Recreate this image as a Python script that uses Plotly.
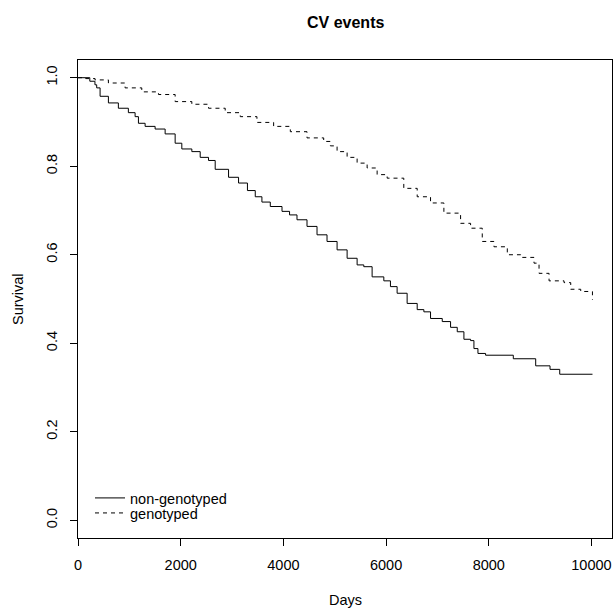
import plotly.graph_objects as go

# Kaplan-Meier style step data
t_non = [0, 230, 330, 364, 430, 592, 786, 981, 1112, 1177, 1307, 1502, 1697, 1892, 2022,
         2217, 2380, 2542, 2672, 2932, 3127, 3300, 3452, 3582, 3745, 3973, 4120, 4265, 4460,
         4655, 4850, 5046, 5241, 5436, 5566, 5728, 5956, 6085, 6215, 6410, 6606, 6736, 6866,
         7094, 7256, 7386, 7516, 7646, 7711, 7789, 7938, 8478, 8914, 9193, 9382, 10020]
s_non = [1.0, 0.992, 0.984, 0.977, 0.958, 0.943, 0.931, 0.921, 0.912, 0.897, 0.890, 0.884,
         0.873, 0.852, 0.839, 0.833, 0.820, 0.813, 0.793, 0.775, 0.762, 0.745, 0.731, 0.719,
         0.709, 0.698, 0.690, 0.679, 0.664, 0.645, 0.630, 0.611, 0.592, 0.577, 0.573, 0.550,
         0.541, 0.528, 0.513, 0.490, 0.476, 0.471, 0.456, 0.449, 0.436, 0.426, 0.409, 0.406,
         0.388, 0.377, 0.373, 0.365, 0.349, 0.341, 0.330, 0.330]

t_gen = [0, 150, 332, 592, 917, 1242, 1567, 1892, 2217, 2542, 2867, 3160, 3485, 3810, 4135,
         4460, 4785, 4915, 5046, 5241, 5436, 5631, 5826, 6021, 6345, 6606, 6866, 7126, 7451,
         7646, 7873, 8101, 8361, 8621, 8881, 8979, 9174, 9466, 9596, 9791, 10019]
s_gen = [1.0, 0.998, 0.995, 0.988, 0.977, 0.968, 0.962, 0.946, 0.940, 0.931, 0.921, 0.912,
         0.899, 0.890, 0.878, 0.864, 0.856, 0.846, 0.833, 0.820, 0.807, 0.796, 0.781, 0.773,
         0.750, 0.731, 0.717, 0.694, 0.671, 0.660, 0.630, 0.618, 0.600, 0.594, 0.581, 0.558,
         0.541, 0.537, 0.522, 0.517, 0.498]

x_ticks = [0, 2000, 4000, 6000, 8000, 10000]
x_tick_text = ["0", "2000", "4000", "6000", "8000", "10000"]
y_ticks = [0.0, 0.2, 0.4, 0.6, 0.8, 1.0]
y_tick_text = ["0.0", "0.2", "0.4", "0.6", "0.8", "1.0"]

FONT = "Liberation Sans, Arial, sans-serif"
FS = 14.5

fig = go.Figure()
fig.add_trace(go.Scatter(x=t_non, y=s_non, mode="lines", name="non-genotyped",
                         legend="legend",
                         line=dict(color="black", width=1, shape="hv")))
fig.add_trace(go.Scatter(x=t_gen, y=s_gen, mode="lines", name="genotyped",
                         legend="legend2",
                         line=dict(color="black", width=1, shape="hv", dash="4px,4px")))

axis_common = dict(showgrid=False, zeroline=False, showline=True, linecolor="black",
                   linewidth=1, mirror=True, ticks="outside", ticklen=7, tickwidth=1,
                   tickcolor="black", tickfont=dict(family=FONT, size=FS, color="black"))

fig.update_xaxes(range=[0, 10400], tickvals=x_ticks, ticktext=x_tick_text,
                 ticklabelstandoff=7, **axis_common)
fig.update_yaxes(range=[-0.04, 1.04], tickvals=y_ticks, ticktext=y_tick_text,
                 tickangle=-90, ticklabelstandoff=7, **axis_common)

leg_common = dict(xanchor="left", yanchor="middle", bgcolor="rgba(0,0,0,0)",
                  borderwidth=0, font=dict(family=FONT, size=FS, color="black"),
                  itemwidth=30)

fig.update_layout(
    width=613, height=611,
    margin=dict(l=78, r=1, t=60, b=73, pad=0),
    paper_bgcolor="white", plot_bgcolor="white",
    font=dict(family=FONT, size=FS, color="black"),
    showlegend=True,
    legend=dict(x=0.0225, y=0.0837, **leg_common),
    legend2=dict(x=0.0225, y=0.0523, **leg_common),
    annotations=[
        dict(text="<b>CV events</b>", xref="paper", yref="paper", x=0.5, y=1,
             yshift=38, showarrow=False, xanchor="center", yanchor="middle",
             font=dict(family=FONT, size=16, color="black")),
        dict(text="Days", xref="paper", yref="paper", x=0.5, y=0, yshift=-62,
             showarrow=False, xanchor="center", yanchor="middle",
             font=dict(family=FONT, size=FS, color="black")),
        dict(text="Survival", xref="paper", yref="paper", x=0, y=0.5, xshift=-60,
             showarrow=False, xanchor="center", yanchor="middle", textangle=-90,
             font=dict(family=FONT, size=FS, color="black")),
    ],
)

fig.write_html("out.html")
